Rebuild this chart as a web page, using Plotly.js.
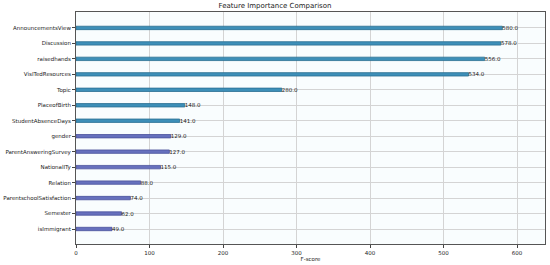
<!DOCTYPE html>
<html>
<head>
<meta charset="utf-8">
<script src="https://cdn.plot.ly/plotly-3.0.1.min.js"></script>
<style>html,body{margin:0;padding:0;background:#fff;}#chart{width:550px;height:265px;}</style>
</head>
<body>
<div id="chart"></div>
<script>
const features = ["AnnouncementsView","Discussion","raisedhands","VisITedResources","Topic","PlaceofBirth","StudentAbsenceDays","gender","ParentAnsweringSurvey","NationalITy","Relation","ParentschoolSatisfaction","Semester","isImmigrant"];
const scores = [580,578,556,534,280,148,141,129,127,115,88,74,62,49];
const xTicks = [0,100,200,300,400,500,600];

const fills = features.map((f,i)=> i<7 ? "#3d8fb8" : "#6670bd");
const edges = features.map((f,i)=> i<7 ? "#2a6e92" : "#4a529c");

const trace = {
  type: "bar",
  orientation: "h",
  x: scores,
  y: features,
  width: 0.22,
  marker: {color: fills, line: {color: edges, width: 0.8}},
  text: scores.map(v => v.toFixed(1)),
  textposition: "outside",
  constraintext: "none",
  cliponaxis: false,
  textfont: {family: "DejaVu Sans", size: 5.5, color: "#222"},
  hoverinfo: "none"
};

const layout = {
  width: 550, height: 265,
  margin: {l: 76, r: 5, t: 12, b: 21},
  paper_bgcolor: "#ffffff",
  plot_bgcolor: "#f9fdfe",
  font: {family: "DejaVu Sans", size: 5.5, color: "#222"},
  title: {text: "Feature Importance Comparison", x: 0.5, xanchor: "center", y: 0.99, yanchor: "top", font: {size: 7, color: "#222"}},
  showlegend: false,
  bargap: 0,
  xaxis: {
    range: [0, 638],
    tickvals: xTicks,
    ticktext: xTicks.map(String),
    showgrid: true, gridcolor: "#d4d4d4", gridwidth: 1,
    zeroline: false,
    ticks: "outside", ticklen: 3, tickcolor: "#444",
    showline: true, linecolor: "#555", linewidth: 1, mirror: true,
    tickfont: {size: 5.5, color: "#222"},
    title: {text: "F-score", standoff: 1, font: {size: 5.5, color: "#222"}}
  },
  yaxis: {
    type: "category",
    range: [13.97, -1.03],
    showgrid: true, gridcolor: "#d4d4d4", gridwidth: 1,
    ticks: "outside", ticklen: 3, tickcolor: "#444",
    showline: true, linecolor: "#555", linewidth: 1, mirror: true,
    tickfont: {size: 5.5, color: "#222"}
  }
};

Plotly.newPlot("chart", [trace], layout, {staticPlot: true, displayModeBar: false});
</script>
</body>
</html>
